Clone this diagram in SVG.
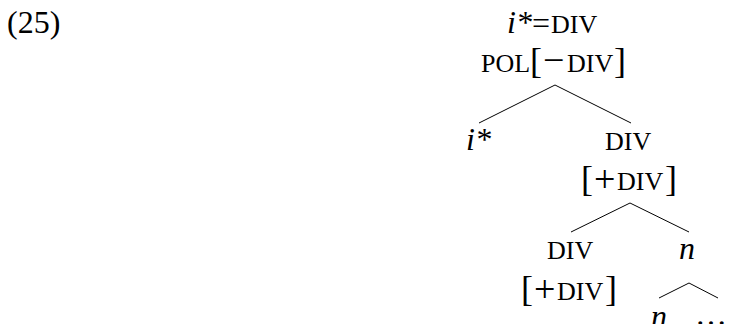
<svg xmlns="http://www.w3.org/2000/svg" width="730" height="324" viewBox="0 0 730 324">
  <style>
    text { font-family: "Liberation Serif", "Times New Roman", serif; fill: #000; }
    .rm { font-size: 32px; }
    .it { font-size: 32px; font-style: italic; }
    .sc { font-size: 26px; }
    .br { font-size: 36px; }
    .op { font-size: 38px; }
    .edge { stroke: #000; stroke-width: 1; fill: none; }
  </style>
  <rect width="730" height="324" fill="#fff"/>

  <!-- example number -->
  <text id="exnum" class="rm" x="7" y="33">(25)</text>

  <!-- branches -->
  <g id="connectors">
    <path class="edge" d="M555,85 L479,123 M555,85 L631,123"/>
    <path class="edge" d="M630,203 L571,232 M630,203 L689,232"/>
    <path class="edge" d="M689,283 L659,298 M689,283 L718,298"/>
  </g>

  <!-- root: i*=DIV / POL[−DIV] -->
  <g id="root">
    <text class="it" x="507" y="33">i*</text>
    <text class="rm" x="532" y="34">=</text>
    <text class="sc" x="551" y="33">DIV</text>
    <text class="sc" x="481" y="72">POL</text>
    <text class="br" x="530" y="73">[</text>
    <text class="op" x="543" y="73">−</text>
    <text class="sc" x="567" y="72">DIV</text>
    <text class="br" x="614" y="73">]</text>
  </g>

  <!-- left daughter: i* -->
  <g id="istar">
    <text class="it" x="466" y="150">i*</text>
  </g>

  <!-- right daughter: DIV [+DIV] -->
  <g id="div1">
    <text class="sc" x="605" y="150">DIV</text>
    <text class="br" x="581" y="191">[</text>
    <text class="op" x="594" y="192">+</text>
    <text class="sc" x="617" y="190">DIV</text>
    <text class="br" x="665" y="191">]</text>
  </g>

  <!-- DIV [+DIV] -->
  <g id="div2">
    <text class="sc" x="547" y="259">DIV</text>
    <text class="br" x="521" y="301">[</text>
    <text class="op" x="534" y="302">+</text>
    <text class="sc" x="557" y="300">DIV</text>
    <text class="br" x="605" y="301">]</text>
  </g>

  <!-- n -->
  <g id="n1">
    <text class="it" x="679" y="259">n</text>
  </g>

  <!-- n … -->
  <g id="n2">
    <text class="it" x="651" y="327">n</text>
  </g>
  <g id="dots">
    <text class="rm" x="695" y="325">…</text>
  </g>
</svg>
